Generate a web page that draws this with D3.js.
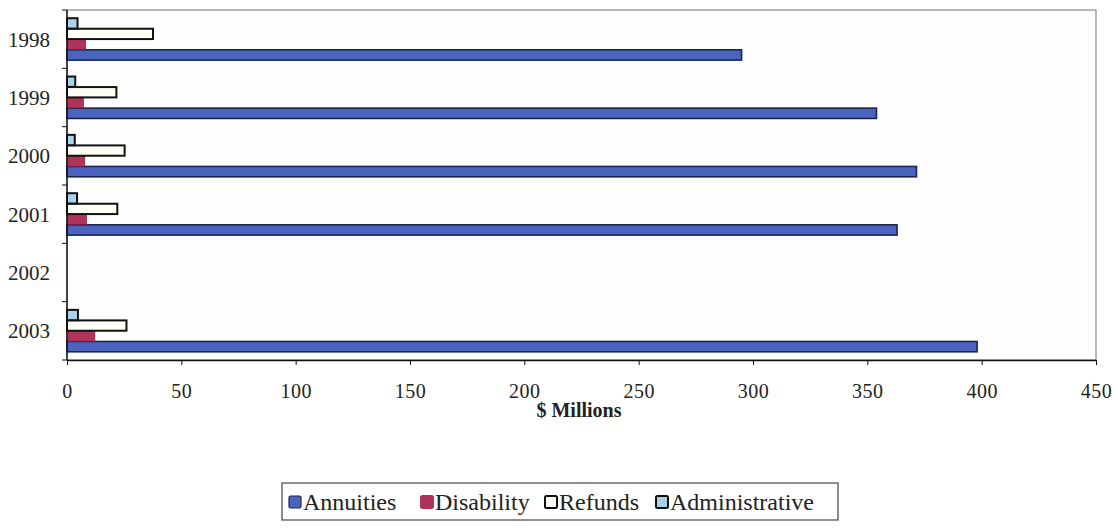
<!DOCTYPE html>
<html>
<head>
<meta charset="utf-8">
<script src="https://cdn.jsdelivr.net/npm/d3@7"></script>
<style>
  html, body { margin: 0; padding: 0; background: #fff; }
  svg { display: block; font-family: "Liberation Serif", "Times New Roman", serif; }
</style>
</head>
<body>
<svg id="chart" width="1117" height="530"></svg>
<script>
// Fund disbursements by year, $ millions
const years = ["1998", "1999", "2000", "2001", "2002", "2003"];
const seriesNames = ["Annuities", "Disability", "Refunds", "Administrative"];
const annuities      = [295, 354, 371.5, 363, null, 398];
const disability     = [8.2, 7.2, 7.8, 8.6, null, 12.2];
const refunds        = [37.6, 21.6, 25.2, 22, null, 26];
const administrative = [4.6, 3.6, 3.4, 4.4, null, 4.8];
const xTicks = [0, 50, 100, 150, 200, 250, 300, 350, 400, 450];

const valuesBySeries = {
  Annuities: annuities,
  Disability: disability,
  Refunds: refunds,
  Administrative: administrative
};

const styles = {
  Annuities:      { fill: "#4a64c0", stroke: "#1c2550", sw: 1.6 },
  Disability:     { fill: "#b0345a", stroke: "#7a1f3c", sw: 0.6 },
  Refunds:        { fill: "#fffff6", stroke: "#111111", sw: 2 },
  Administrative: { fill: "#a9d2ea", stroke: "#111111", sw: 2 }
};

const svg = d3.select("#chart");
const plot = { left: 67, right: 1096, top: 10, bottom: 360 };

const x = d3.scaleLinear().domain([0, 450]).range([plot.left, plot.right]);
const y = d3.scaleBand().domain(years).range([plot.top, plot.bottom]).paddingInner(0).paddingOuter(0);
// Within each year, series are stacked top-to-bottom in reverse order
const inner = d3.scaleBand()
  .domain(["Administrative", "Refunds", "Disability", "Annuities"])
  .range([0, y.bandwidth()])
  .paddingInner(0.02)
  .paddingOuter(0.78);

// Plot frame (top and right in grey)
svg.append("rect")
  .attr("x", plot.left).attr("y", plot.top)
  .attr("width", plot.right - plot.left).attr("height", plot.bottom - plot.top)
  .attr("fill", "#fdfdfd")
  .attr("stroke", "#8a8a8a").attr("stroke-width", 1.2);

// Bars
const rows = [];
years.forEach((yr, i) => {
  seriesNames.forEach(s => {
    const v = valuesBySeries[s][i];
    if (v != null) rows.push({ year: yr, series: s, value: v });
  });
});

svg.append("g").selectAll("rect")
  .data(rows)
  .join("rect")
  .attr("x", x(0))
  .attr("y", d => y(d.year) + inner(d.series))
  .attr("width", d => x(d.value) - x(0))
  .attr("height", inner.bandwidth())
  .attr("fill", d => styles[d.series].fill)
  .attr("stroke", d => styles[d.series].stroke)
  .attr("stroke-width", d => styles[d.series].sw);

// X axis
const xAxis = svg.append("g")
  .attr("transform", `translate(0,${plot.bottom})`)
  .call(d3.axisBottom(x).tickValues(xTicks).tickSize(5).tickSizeOuter(0).tickPadding(19));
xAxis.select(".domain").attr("stroke", "#111").attr("stroke-width", 1.4);
xAxis.selectAll(".tick line").attr("stroke", "#111");
xAxis.selectAll(".tick text")
  .attr("font-family", "Liberation Serif, serif")
  .attr("font-size", 20).attr("letter-spacing", 0.5).attr("fill", "#222");

// Y axis: ticks at category boundaries
const yAxisG = svg.append("g").attr("transform", `translate(${plot.left},0)`);
yAxisG.append("line")
  .attr("x1", 0).attr("x2", 0).attr("y1", plot.top).attr("y2", plot.bottom)
  .attr("stroke", "#111").attr("stroke-width", 1.4);
const boundaries = years.map(yr => y(yr)).concat([plot.bottom]);
yAxisG.selectAll("line.tk")
  .data(boundaries)
  .join("line")
  .attr("class", "tk")
  .attr("x1", -5).attr("x2", 0)
  .attr("y1", d => d).attr("y2", d => d)
  .attr("stroke", "#111");
yAxisG.selectAll("text")
  .data(years)
  .join("text")
  .attr("x", -17)
  .attr("y", d => y(d) + y.bandwidth() / 2)
  .attr("dy", "0.35em")
  .attr("text-anchor", "end")
  .attr("font-size", 21).attr("fill", "#222")
  .text(d => d);

// Axis title
svg.append("text")
  .attr("x", 579)
  .attr("y", 417)
  .attr("text-anchor", "middle")
  .attr("font-size", 20).attr("font-weight", "bold").attr("fill", "#222")
  .text("$ Millions");

// Legend
const legend = svg.append("g");
legend.append("rect")
  .attr("x", 282).attr("y", 483).attr("width", 556).attr("height", 37)
  .attr("fill", "#fff").attr("stroke", "#444").attr("stroke-width", 1.2);
const legendX = [289, 421, 545, 656];
const items = legend.selectAll("g.item")
  .data(seriesNames)
  .join("g")
  .attr("class", "item")
  .attr("transform", (d, i) => `translate(${legendX[i]},502)`);
items.append("rect")
  .attr("x", 0).attr("y", -6).attr("width", 12).attr("height", 12)
  .attr("rx", 1.5)
  .attr("fill", d => styles[d].fill)
  .attr("stroke", d => d === "Disability" ? "#b0345a" : styles[d].stroke)
  .attr("stroke-width", d => d === "Annuities" ? 1.2 : 2);
items.append("text")
  .attr("x", 14).attr("y", 0).attr("dy", "0.35em")
  .attr("font-size", 24).attr("fill", "#222")
  .text(d => d);
</script>
</body>
</html>
